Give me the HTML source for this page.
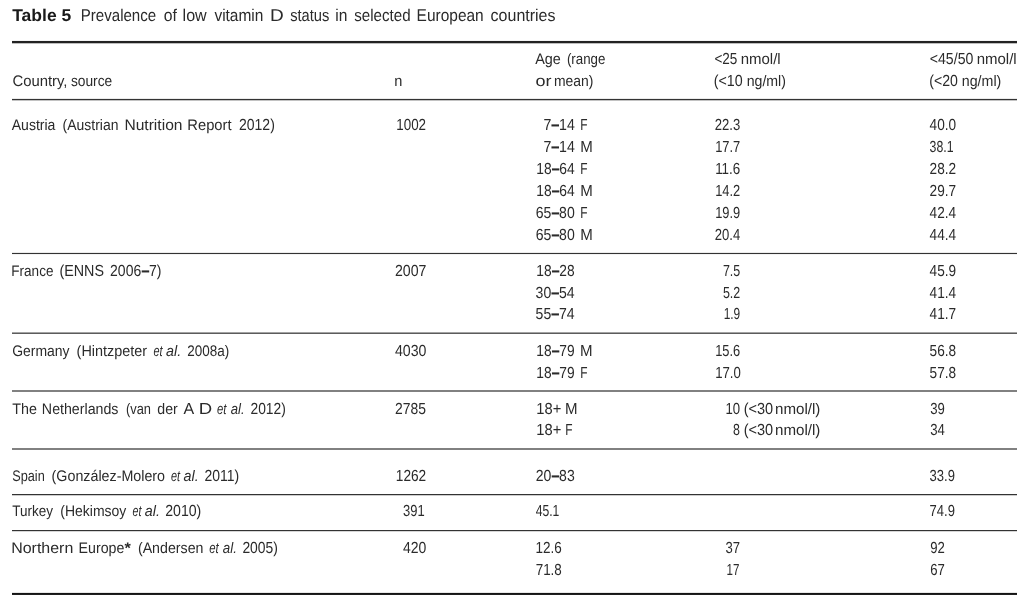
<!DOCTYPE html>
<html lang="en">
<head>
<meta charset="utf-8">
<title>Table 5 Prevalence of low vitamin D status in selected European countries</title>
<style>
html,body{margin:0;padding:0;background:#fff;}
body{width:1030px;height:599px;position:relative;overflow:hidden;font-family:"Liberation Sans",sans-serif;color:#2b2b2b;}
.rule{position:absolute;left:12px;width:1005px;height:1px;}
.tbl{position:absolute;left:0;top:0;will-change:transform;text-rendering:geometricPrecision;}
.tbl span{position:absolute;left:0;top:0;transform-origin:0 0;white-space:pre;line-height:24px;font-size:15.25px;font-family:"Liberation Sans",sans-serif;}
.tbl span.i{font-style:italic;}
.tbl span.bd{font-weight:bold;}
.tbl span b{display:inline-block;transform:scale(1.08,1.3);}
.tbl span.d{font-size:16.0px;}
.tbl span.t{font-size:17.0px;}
.tbl span.tb{font-size:17.0px;font-weight:bold;color:#1a1a1a;}
</style>
</head>
<body>
<div class="rule" style="top:40px;background:#f4f4f4"></div>
<div class="rule" style="top:41px;background:#222222"></div>
<div class="rule" style="top:42px;background:#222222"></div>
<div class="rule" style="top:43px;background:#bdbdbd"></div>
<div class="rule" style="top:98px;background:#ebebeb"></div>
<div class="rule" style="top:99px;background:#333333"></div>
<div class="rule" style="top:100px;background:#c2c2c2"></div>
<div class="rule" style="top:252px;background:#ebebeb"></div>
<div class="rule" style="top:253px;background:#333333"></div>
<div class="rule" style="top:254px;background:#f3f3f3"></div>
<div class="rule" style="top:332px;background:#a3a3a3"></div>
<div class="rule" style="top:333px;background:#5c5c5c"></div>
<div class="rule" style="top:390px;background:#818181"></div>
<div class="rule" style="top:391px;background:#818181"></div>
<div class="rule" style="top:448px;background:#818181"></div>
<div class="rule" style="top:449px;background:#818181"></div>
<div class="rule" style="top:494px;background:#333333"></div>
<div class="rule" style="top:495px;background:#cccccc"></div>
<div class="rule" style="top:530px;background:#333333"></div>
<div class="rule" style="top:531px;background:#d6d6d6"></div>
<div class="rule" style="top:592px;background:#e8e8e8"></div>
<div class="rule" style="top:593px;background:#141414"></div>
<div class="rule" style="top:594px;background:#202020"></div>
<div class="tbl">
<span class="tb" style="transform:translate(12.20px,3.85px) scaleX(1.0306)">Table 5</span>
<span class="t" style="transform:translate(80.71px,3.85px) scaleX(0.8876)">Prevalence</span>
<span class="t" style="transform:translate(163.70px,3.85px) scaleX(0.9270)">of</span>
<span class="t" style="transform:translate(182.55px,3.85px) scaleX(0.9472)">low</span>
<span class="t" style="transform:translate(214.40px,3.85px) scaleX(0.9102)">vitamin</span>
<span class="t" style="transform:translate(270.08px,3.85px) scaleX(1.1182)">D</span>
<span class="t" style="transform:translate(290.20px,3.85px) scaleX(0.8628)">status</span>
<span class="t" style="transform:translate(335.28px,3.85px) scaleX(0.9171)">in</span>
<span class="t" style="transform:translate(354.30px,3.85px) scaleX(0.8892)">selected</span>
<span class="t" style="transform:translate(416.59px,3.85px) scaleX(0.9104)">European</span>
<span class="t" style="transform:translate(490.60px,3.85px) scaleX(0.9404)">countries</span>
<span class="r" style="transform:translate(12.40px,69.75px) scaleX(0.9753)">Country,</span>
<span class="r" style="transform:translate(70.90px,69.75px) scaleX(0.9030)">source</span>
<span class="r" style="transform:translate(394.14px,69.75px) scaleX(0.9571)">n</span>
<span class="r" style="transform:translate(535.20px,47.70px) scaleX(0.9455)">Age</span>
<span class="r" style="transform:translate(566.90px,47.70px) scaleX(0.8738)">(range</span>
<span class="r" style="transform:translate(535.50px,69.75px) scaleX(1.1794)">or</span>
<span class="r" style="transform:translate(553.89px,69.75px) scaleX(0.9135)">mean)</span>
<span class="d" style="transform:translate(714.40px,47.70px) scaleX(0.8443)">&lt;25</span>
<span class="r" style="transform:translate(740.72px,47.70px) scaleX(0.9824)">nmol/l</span>
<span class="d" style="transform:translate(713.71px,69.75px) scaleX(0.8901)">(&lt;10</span>
<span class="r" style="transform:translate(746.67px,69.75px) scaleX(0.9276)">ng/ml)</span>
<span class="d" style="transform:translate(929.80px,47.70px) scaleX(0.8811)">&lt;45/50</span>
<span class="r" style="transform:translate(976.72px,47.70px) scaleX(0.9824)">nmol/l</span>
<span class="d" style="transform:translate(929.22px,69.75px) scaleX(0.8806)">(&lt;20</span>
<span class="r" style="transform:translate(961.77px,69.75px) scaleX(0.9324)">ng/ml)</span>
<span class="r" style="transform:translate(11.70px,113.85px) scaleX(0.9212)">Austria</span>
<span class="r" style="transform:translate(62.60px,113.85px) scaleX(0.9151)">(Austrian</span>
<span class="r" style="transform:translate(124.38px,113.85px) scaleX(1.0234)">Nutrition</span>
<span class="r" style="transform:translate(187.33px,113.85px) scaleX(0.9663)">Report</span>
<span class="d" style="transform:translate(239.00px,113.85px) scaleX(0.8745)">2012)</span>
<span class="d" style="transform:translate(396.26px,113.85px) scaleX(0.8358)">1002</span>
<span class="d" style="transform:translate(543.40px,113.85px) scaleX(0.8825)">7<b>–</b>14</span>
<span class="d" style="transform:translate(580.36px,113.85px) scaleX(0.7444)">F</span>
<span class="d" style="transform:translate(714.80px,113.85px) scaleX(0.8162)">22.3</span>
<span class="d" style="transform:translate(929.60px,113.85px) scaleX(0.8514)">40.0</span>
<span class="d" style="transform:translate(543.40px,135.78px) scaleX(0.8825)">7<b>–</b>14</span>
<span class="d" style="transform:translate(580.16px,135.78px) scaleX(0.9417)">M</span>
<span class="d" style="transform:translate(715.20px,135.78px) scaleX(0.8035)">17.7</span>
<span class="d" style="transform:translate(929.60px,135.78px) scaleX(0.7682)">38.1</span>
<span class="d" style="transform:translate(536.34px,157.71px) scaleX(0.8625)">18<b>–</b>64</span>
<span class="d" style="transform:translate(580.36px,157.71px) scaleX(0.7444)">F</span>
<span class="d" style="transform:translate(715.16px,157.71px) scaleX(0.8364)">11.6</span>
<span class="d" style="transform:translate(929.60px,157.71px) scaleX(0.8514)">28.2</span>
<span class="d" style="transform:translate(536.34px,179.64px) scaleX(0.8625)">18<b>–</b>64</span>
<span class="d" style="transform:translate(580.16px,179.64px) scaleX(0.9417)">M</span>
<span class="d" style="transform:translate(715.20px,179.64px) scaleX(0.8035)">14.2</span>
<span class="d" style="transform:translate(929.60px,179.64px) scaleX(0.8514)">29.7</span>
<span class="d" style="transform:translate(535.70px,201.57px) scaleX(0.8768)">65<b>–</b>80</span>
<span class="d" style="transform:translate(580.36px,201.57px) scaleX(0.7444)">F</span>
<span class="d" style="transform:translate(715.20px,201.57px) scaleX(0.8035)">19.9</span>
<span class="d" style="transform:translate(929.60px,201.57px) scaleX(0.8514)">42.4</span>
<span class="d" style="transform:translate(535.70px,223.50px) scaleX(0.8768)">65<b>–</b>80</span>
<span class="d" style="transform:translate(580.16px,223.50px) scaleX(0.9417)">M</span>
<span class="d" style="transform:translate(714.80px,223.50px) scaleX(0.8162)">20.4</span>
<span class="d" style="transform:translate(929.60px,223.50px) scaleX(0.8514)">44.4</span>
<span class="r" style="transform:translate(11.31px,259.60px) scaleX(0.8873)">France</span>
<span class="d" style="transform:translate(59.40px,259.60px) scaleX(0.8959)">(ENNS</span>
<span class="d" style="transform:translate(110.10px,259.60px) scaleX(0.8734)">2006<b>–</b>7)</span>
<span class="d" style="transform:translate(395.00px,259.60px) scaleX(0.8825)">2007</span>
<span class="d" style="transform:translate(536.34px,259.60px) scaleX(0.8602)">18<b>–</b>28</span>
<span class="d" style="transform:translate(535.60px,281.50px) scaleX(0.8768)">30<b>–</b>54</span>
<span class="d" style="transform:translate(535.60px,303.30px) scaleX(0.8768)">55<b>–</b>74</span>
<span class="d" style="transform:translate(722.90px,259.60px) scaleX(0.7787)">7.5</span>
<span class="d" style="transform:translate(722.90px,281.50px) scaleX(0.7787)">5.2</span>
<span class="d" style="transform:translate(723.66px,303.30px) scaleX(0.7449)">1.9</span>
<span class="d" style="transform:translate(929.60px,259.60px) scaleX(0.8514)">45.9</span>
<span class="d" style="transform:translate(929.60px,281.50px) scaleX(0.8514)">41.4</span>
<span class="d" style="transform:translate(929.60px,303.30px) scaleX(0.8514)">41.7</span>
<span class="r" style="transform:translate(12.20px,339.80px) scaleX(0.9146)">Germany</span>
<span class="r" style="transform:translate(76.60px,339.80px) scaleX(0.9463)">(Hintzpeter</span>
<span class="i" style="transform:translate(153.50px,339.80px) scaleX(0.7121)">et</span>
<span class="i" style="transform:translate(166.00px,339.80px) scaleX(0.9415)">al.</span>
<span class="r" style="transform:translate(187.30px,339.80px) scaleX(0.8838)">2008a)</span>
<span class="d" style="transform:translate(395.00px,339.80px) scaleX(0.8825)">4030</span>
<span class="d" style="transform:translate(536.34px,339.80px) scaleX(0.8602)">18<b>–</b>79</span>
<span class="d" style="transform:translate(579.96px,339.80px) scaleX(0.9417)">M</span>
<span class="d" style="transform:translate(536.34px,361.70px) scaleX(0.8602)">18<b>–</b>79</span>
<span class="d" style="transform:translate(580.16px,361.70px) scaleX(0.7444)">F</span>
<span class="d" style="transform:translate(715.20px,339.80px) scaleX(0.8035)">15.6</span>
<span class="d" style="transform:translate(715.18px,361.70px) scaleX(0.8234)">17.0</span>
<span class="d" style="transform:translate(929.60px,339.80px) scaleX(0.8514)">56.8</span>
<span class="d" style="transform:translate(929.60px,361.70px) scaleX(0.8514)">57.8</span>
<span class="r" style="transform:translate(12.20px,397.60px) scaleX(0.9381)">The</span>
<span class="r" style="transform:translate(41.87px,397.60px) scaleX(0.9313)">Netherlands</span>
<span class="r" style="transform:translate(126.00px,397.60px) scaleX(0.8429)">(van</span>
<span class="r" style="transform:translate(157.30px,397.60px) scaleX(0.9288)">der</span>
<span class="d" style="transform:translate(183.50px,397.60px) scaleX(1.0000)">A</span>
<span class="d" style="transform:translate(198.74px,397.60px) scaleX(1.1600)">D</span>
<span class="i" style="transform:translate(217.00px,397.60px) scaleX(0.7418)">et</span>
<span class="i" style="transform:translate(230.70px,397.60px) scaleX(0.8608)">al.</span>
<span class="d" style="transform:translate(250.50px,397.60px) scaleX(0.8622)">2012)</span>
<span class="d" style="transform:translate(395.00px,397.60px) scaleX(0.8685)">2785</span>
<span class="d" style="transform:translate(536.28px,397.60px) scaleX(0.9187)">18+</span>
<span class="d" style="transform:translate(564.96px,397.60px) scaleX(0.9417)">M</span>
<span class="d" style="transform:translate(536.28px,419.40px) scaleX(0.9187)">18+</span>
<span class="d" style="transform:translate(565.16px,419.40px) scaleX(0.7444)">F</span>
<span class="d" style="transform:translate(725.38px,397.60px) scaleX(0.8226)">10</span>
<span class="d" style="transform:translate(743.69px,397.60px) scaleX(0.9059)">(&lt;30</span>
<span class="r" style="transform:translate(775.01px,397.60px) scaleX(0.9915)">nmol/l)</span>
<span class="d" style="transform:translate(733.10px,419.40px) scaleX(0.7778)">8</span>
<span class="d" style="transform:translate(743.69px,419.40px) scaleX(0.9059)">(&lt;30</span>
<span class="r" style="transform:translate(775.01px,419.40px) scaleX(0.9915)">nmol/l)</span>
<span class="d" style="transform:translate(930.20px,397.60px) scaleX(0.8213)">39</span>
<span class="d" style="transform:translate(930.20px,419.40px) scaleX(0.8213)">34</span>
<span class="r" style="transform:translate(12.20px,464.80px) scaleX(0.8333)">Spain</span>
<span class="r" style="transform:translate(51.60px,464.80px) scaleX(0.9361)">(González-Molero</span>
<span class="i" style="transform:translate(171.00px,464.80px) scaleX(0.7121)">et</span>
<span class="i" style="transform:translate(183.50px,464.80px) scaleX(0.9415)">al.</span>
<span class="d" style="transform:translate(204.50px,464.80px) scaleX(0.8730)">2011)</span>
<span class="d" style="transform:translate(395.85px,464.80px) scaleX(0.8531)">1262</span>
<span class="d" style="transform:translate(535.70px,464.80px) scaleX(0.8768)">20<b>–</b>83</span>
<span class="d" style="transform:translate(929.60px,464.80px) scaleX(0.8130)">33.9</span>
<span class="r" style="transform:translate(12.20px,500.40px) scaleX(0.8855)">Turkey</span>
<span class="r" style="transform:translate(60.30px,500.40px) scaleX(0.9172)">(Hekimsoy</span>
<span class="i" style="transform:translate(132.50px,500.40px) scaleX(0.6973)">et</span>
<span class="i" style="transform:translate(144.80px,500.40px) scaleX(0.9415)">al.</span>
<span class="d" style="transform:translate(165.20px,500.40px) scaleX(0.8819)">2010)</span>
<span class="d" style="transform:translate(403.10px,500.40px) scaleX(0.8098)">391</span>
<span class="d" style="transform:translate(535.70px,500.40px) scaleX(0.7586)">45.1</span>
<span class="d" style="transform:translate(929.60px,500.40px) scaleX(0.8130)">74.9</span>
<span class="r" style="transform:translate(11.15px,536.80px) scaleX(1.0475)">Northern</span>
<span class="r" style="transform:translate(78.57px,536.80px) scaleX(0.9309)">Europe</span>
<span class="bd" style="transform:translate(124.50px,536.80px) scaleX(1.0667)">*</span>
<span class="r" style="transform:translate(137.90px,536.80px) scaleX(0.9316)">(Andersen</span>
<span class="i" style="transform:translate(209.20px,536.80px) scaleX(0.7418)">et</span>
<span class="i" style="transform:translate(222.80px,536.80px) scaleX(0.8743)">al.</span>
<span class="d" style="transform:translate(242.40px,536.80px) scaleX(0.8671)">2005)</span>
<span class="d" style="transform:translate(402.90px,536.80px) scaleX(0.8732)">420</span>
<span class="d" style="transform:translate(535.56px,536.80px) scaleX(0.8432)">12.6</span>
<span class="d" style="transform:translate(535.70px,558.80px) scaleX(0.8386)">71.8</span>
<span class="d" style="transform:translate(725.50px,536.80px) scaleX(0.8157)">37</span>
<span class="d" style="transform:translate(726.48px,558.80px) scaleX(0.7220)">17</span>
<span class="d" style="transform:translate(930.20px,536.80px) scaleX(0.8213)">92</span>
<span class="d" style="transform:translate(930.20px,558.80px) scaleX(0.8213)">67</span>
</div>
</body>
</html>
